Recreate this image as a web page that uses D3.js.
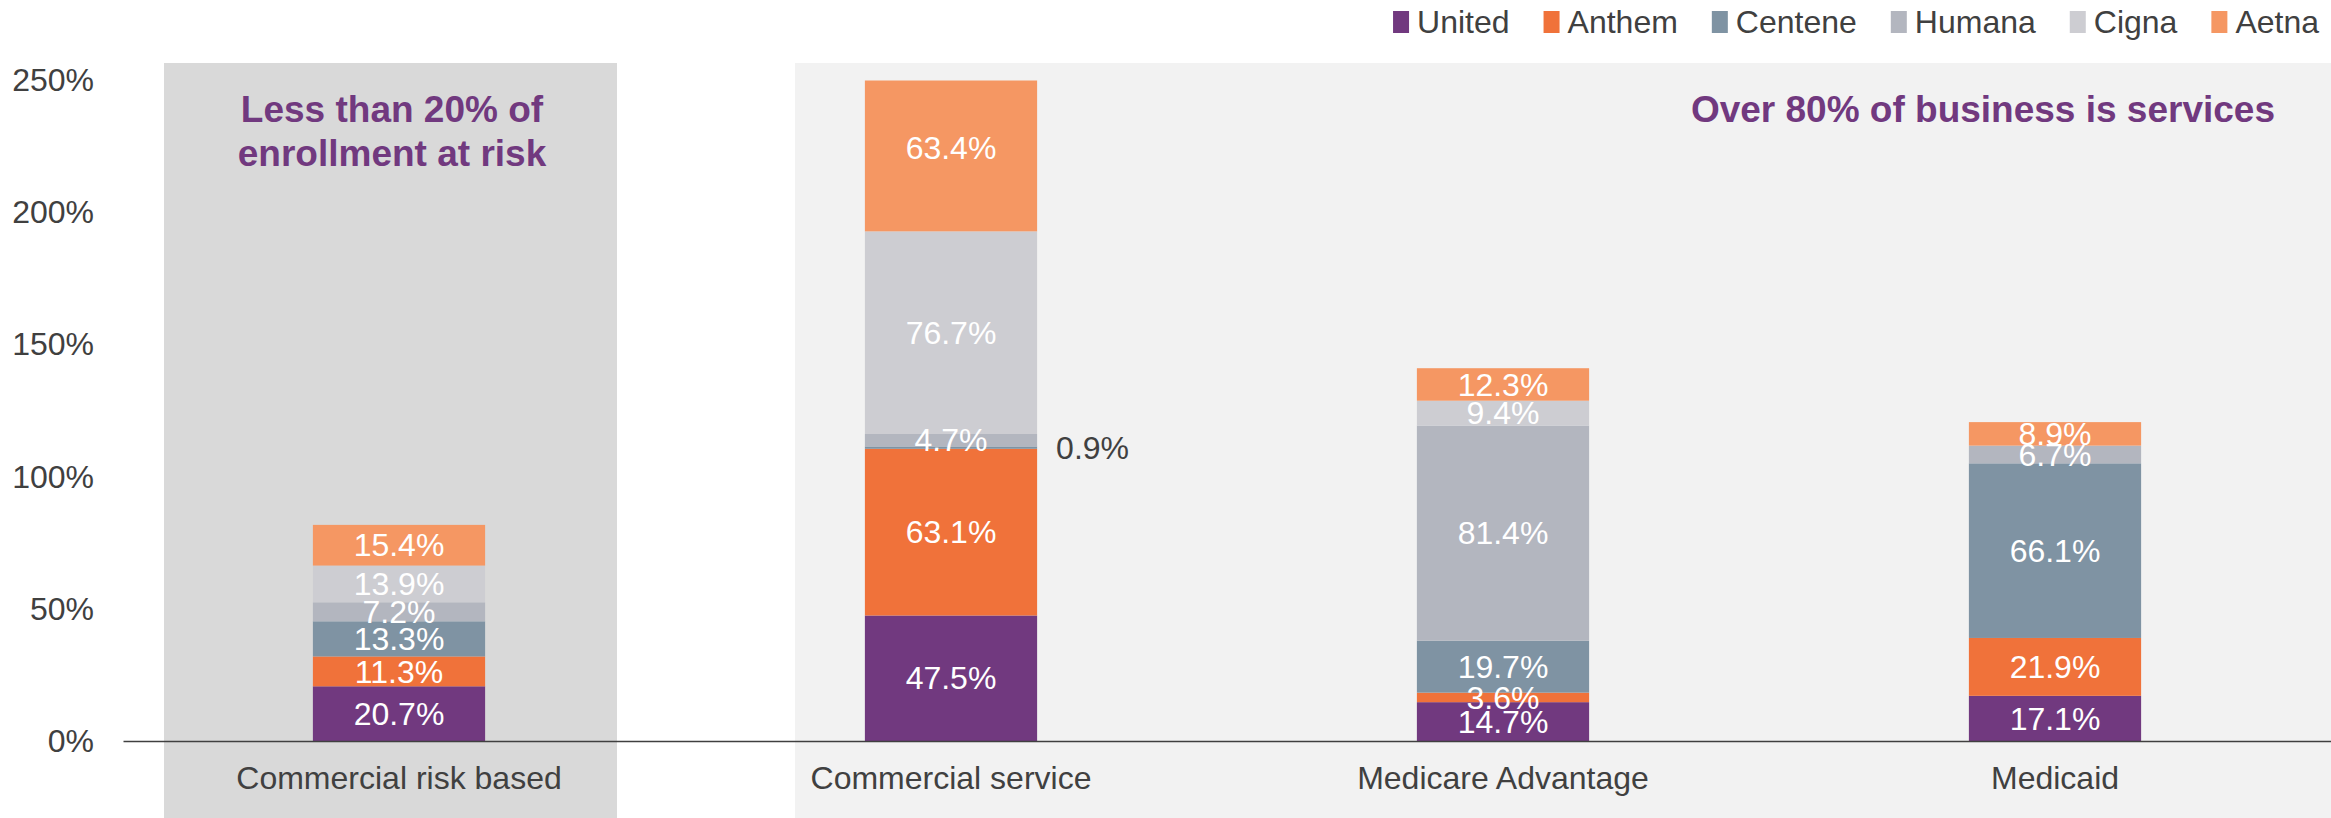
<!DOCTYPE html>
<html>
<head>
<meta charset="utf-8">
<script src="https://cdn.jsdelivr.net/npm/d3@7"></script>
<style>
  body { margin: 0; background: #fff; }
  svg text { font-family: "Liberation Sans", Arial, sans-serif; }
</style>
</head>
<body>
<div id="chart"></div>
<script>
// Dados do gráfico (valores em %)
const categories = ['Commercial risk based', 'Commercial service', 'Medicare Advantage', 'Medicaid'];
const insurers = ['United', 'Anthem', 'Centene', 'Humana', 'Cigna', 'Aetna'];
const united  = [20.7, 47.5, 14.7, 17.1];
const anthem  = [11.3, 63.1, 3.6, 21.9];
const centene = [13.3, 0.9, 19.7, 66.1];
const humana  = [7.2, 4.7, 81.4, 6.7];
const cigna   = [13.9, 76.7, 9.4, 0];
const aetna   = [15.4, 63.4, 12.3, 8.9];
const yTicks  = [0, 50, 100, 150, 200, 250];
const colors  = ['#71397f', '#f0723a', '#7f93a3', '#b3b6bf', '#cdcdd2', '#f59763'];

const W = 2331, H = 818;
const svg = d3.select('#chart').append('svg')
  .attr('width', W).attr('height', H);

// tabela para o stack
const series = [united, anthem, centene, humana, cigna, aetna];
const rows = categories.map((c, i) => {
  const r = { category: c };
  insurers.forEach((k, j) => { r[k] = series[j][i]; });
  return r;
});
const stacked = d3.stack().keys(insurers)(rows);

const x = d3.scaleBand()
  .domain(categories)
  .range([123, W])
  .paddingInner(0.688)
  .paddingOuter(0.344);

const y = d3.scaleLinear()
  .domain([0, 250])
  .range([741, 80.5]);

// Painéis de fundo
svg.append('rect')
  .attr('x', 164).attr('y', 63)
  .attr('width', 453).attr('height', H - 63)
  .attr('fill', '#d9d9d9');
svg.append('rect')
  .attr('x', 795).attr('y', 63)
  .attr('width', W - 795).attr('height', H - 63)
  .attr('fill', '#f2f2f2');

// clip no topo do eixo (250%)
svg.append('defs').append('clipPath').attr('id', 'plot-clip')
  .append('rect')
  .attr('x', 0).attr('y', y(250))
  .attr('width', W).attr('height', y(0) - y(250));

const gBars = svg.append('g').attr('clip-path', 'url(#plot-clip)');
gBars.selectAll('g.layer')
  .data(stacked)
  .enter().append('g')
  .attr('class', 'layer')
  .attr('fill', (d, i) => colors[i])
  .selectAll('rect')
  .data(d => d)
  .enter().append('rect')
  .attr('x', d => x(d.data.category))
  .attr('y', d => y(d[1]))
  .attr('width', x.bandwidth())
  .attr('height', d => y(d[0]) - y(d[1]));

// Rótulos dos segmentos (os muito finos vão para fora, à direita)
const gLabels = svg.append('g');
stacked.forEach(layer => {
  layer.forEach(d => {
    const v = d[1] - d[0];
    if (!v) return;
    const cy = y((d[0] + d[1]) / 2);
    const small = v < 2;
    gLabels.append('text')
      .attr('x', small ? x(d.data.category) + x.bandwidth() + 19 : x(d.data.category) + x.bandwidth() / 2)
      .attr('y', cy)
      .attr('dy', '0.35em')
      .attr('text-anchor', small ? 'start' : 'middle')
      .attr('fill', small ? '#404040' : '#ffffff')
      .style('font-size', '32px')
      .text(v.toFixed(1) + '%');
  });
});

// Eixo Y (só rótulos)
const yAxis = svg.append('g')
  .attr('transform', 'translate(94,0)')
  .call(d3.axisLeft(y).tickValues(yTicks).tickSize(0).tickPadding(0).tickFormat(d => d + '%'));
yAxis.select('.domain').remove();
yAxis.selectAll('text')
  .attr('fill', '#404040')
  .style('font-size', '32px')
  .style('font-family', '"Liberation Sans", Arial, sans-serif');

// Eixo X
const xAxis = svg.append('g')
  .attr('transform', `translate(0,${y(0)})`)
  .call(d3.axisBottom(x).tickSize(0).tickPadding(0));
xAxis.select('.domain')
  .attr('stroke', '#404040')
  .attr('stroke-width', 1.5);
xAxis.selectAll('text')
  .attr('y', 48)
  .attr('dy', 0)
  .attr('fill', '#404040')
  .style('font-size', '32px')
  .style('font-family', '"Liberation Sans", Arial, sans-serif');

// Anotações
const note1 = svg.append('text')
  .attr('x', 392).attr('y', 122)
  .attr('text-anchor', 'middle')
  .attr('fill', '#71397f')
  .style('font-size', '37px')
  .style('font-weight', 'bold');
note1.append('tspan').attr('x', 392).attr('y', 122).text('Less than 20% of');
note1.append('tspan').attr('x', 392).attr('y', 166).text('enrollment at risk');

svg.append('text')
  .attr('x', 2275).attr('y', 122)
  .attr('text-anchor', 'end')
  .attr('fill', '#71397f')
  .style('font-size', '37px')
  .style('font-weight', 'bold')
  .text('Over 80% of business is services');

// Legenda (alinhada à direita)
const legend = svg.append('g');
const items = insurers.map((name, i) => {
  const g = legend.append('g');
  g.append('rect')
    .attr('x', 0).attr('y', -11)
    .attr('width', 16).attr('height', 22)
    .attr('fill', colors[i]);
  const t = g.append('text')
    .attr('x', 24).attr('y', 0)
    .attr('dy', '0.35em')
    .attr('fill', '#404040')
    .style('font-size', '32px')
    .text(name);
  return { g, w: 24 + t.node().getComputedTextLength() };
});
const gap = 34;
const total = d3.sum(items, d => d.w) + gap * (items.length - 1);
let lx = 2319 - total;
items.forEach(it => {
  it.g.attr('transform', `translate(${lx},22)`);
  lx += it.w + gap;
});
</script>
</body>
</html>
